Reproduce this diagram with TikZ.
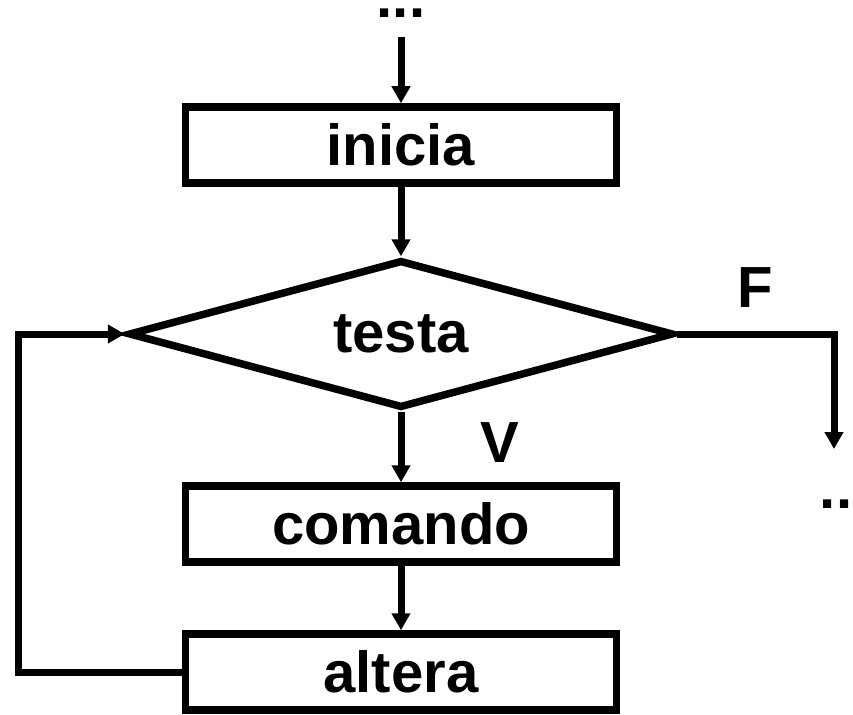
\documentclass[tikz,border=0pt]{standalone}
\usepackage{fontspec}
\setmainfont{Liberation Sans}
\usepackage{tikz}
\usetikzlibrary{shapes.geometric, arrows.meta, positioning}
\usetikzlibrary{calc}

\tikzset{
	blockbox/.style={draw, line width=7.5pt, minimum width=431pt, minimum height=76pt, inner sep=0pt},
	testbox/.style={draw, diamond, aspect=3.68, line width=7.5pt, minimum width=545pt, minimum height=148pt, inner sep=0pt},
	flow/.style={line width=7pt, -{Triangle[length=17pt,width=18pt]}},
	lbl/.style={font=\fontsize{58}{66}\selectfont\bfseries, inner sep=0pt}
}

\begin{document}
\begin{tikzpicture}[x=1pt, y=-1pt]
		\useasboundingbox (0,0) rectangle (853,714);
		\draw (401,18) node[lbl, anchor=base] (dtop) {...}
		(401,145) node[blockbox, lbl] (ini) {inicia}
		(401,334) node[testbox, lbl] (tst) {testa}
		(401,524) node[blockbox, lbl] (cmd) {comando}
		(401,672) node[blockbox, lbl] (alt) {altera}
		(755,307) node[lbl, anchor=base] (fl) {F}
		(500,462) node[lbl, anchor=base] (vl) {V}
		(836,508) node[lbl, anchor=base] (dright) {..};
		
		\coordinate (start) at (401,37);
		\coordinate (fend) at (834,449);
		\draw[flow] (start) -- (ini);
		\draw[flow] (ini) -- (tst);
		\draw[flow] (tst) -- (cmd);
		\draw[flow] (cmd) -- (alt);
		\draw[flow] (tst.east) -| (fend);
		\draw[flow] (alt.west) -- (18,672) |- (tst.west);
	\end{tikzpicture}
\end{document}
